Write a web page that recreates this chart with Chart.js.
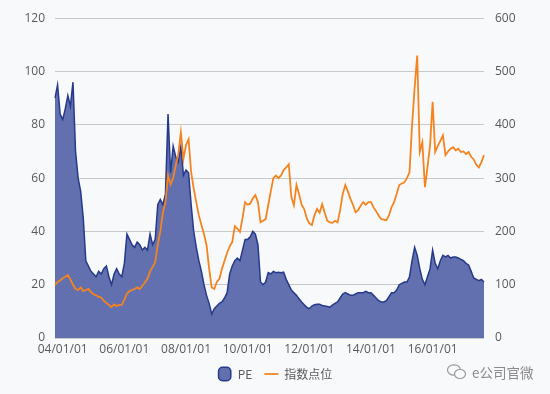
<!DOCTYPE html>
<html>
<head>
<meta charset="utf-8">
<script src="https://cdn.jsdelivr.net/npm/chart.js@4/dist/chart.umd.min.js"></script>
<style>
  html, body { margin: 0; padding: 0; background: #f8f9fb; }
  #wrap { position: relative; width: 550px; height: 394px; }
  #mark { position: absolute; left: 446px; top: 362px; font: 13.5px "Noto Sans CJK SC", sans-serif; color: #8a8a8a; display: flex; align-items: center; }
  #mark svg { margin-right: 4px; }
</style>
</head>
<body>
<div id="wrap">
  <canvas id="pe_chart"></canvas>
  <div id="mark">
    <svg width="22" height="18" viewBox="0 0 22 18"><g fill="none" stroke="#9a9a9a" stroke-width="1.2"><ellipse cx="8" cy="7" rx="6.5" ry="5.2"/><ellipse cx="14" cy="11" rx="5.5" ry="4.5" fill="#f8f9fb"/></g></svg>
    <span>e公司官微</span>
  </div>
</div>
<script>
// Meses (out/2003 - set/2017)
var labels_date = [];
for (var y = 2003; y <= 2017; y++) {
    for (var m = 1; m <= 12; m++) {
        if (y == 2003 && m < 10) continue;
        if (y == 2017 && m > 9) continue;
        labels_date.push(String(y).slice(2) + '/' + (m < 10 ? '0' + m : m) + '/01');
    }
}

// PE (eixo esquerdo)
var pe_list = [
    90, 95, 84, 82, 86, 91, 87, 96, 70, 60, 55, 45, 29, 27, 25, 24, 23, 25, 24, 26,
    27, 23, 20, 24, 26, 24, 23, 28, 39, 37, 35, 34, 36, 35, 33, 34, 33, 39, 35, 37,
    50, 52, 50, 54, 84, 62, 72, 68, 66, 72, 61, 63, 62, 50, 40, 34, 29, 25, 20, 16,
    13, 9, 11, 12, 13, 13.5, 15, 17, 24, 27, 29, 30, 29, 33, 37, 37, 38, 40, 39, 35,
    21, 20, 21, 24.5, 24, 25, 24.5, 24.7, 24.5, 24.7, 22, 20, 18, 17, 16, 14.7, 13.5, 12.5, 11.5, 11,
    12, 12.5, 12.7, 12.7, 12.2, 12, 11.8, 11.6, 12.3, 13, 13.5, 15, 16.5, 17, 16.5, 16, 16, 16.5, 17, 17,
    17, 17.5, 17, 17, 16, 15, 14, 13.5, 13.5, 14, 15.5, 17, 17, 18, 20, 20.5, 21, 21, 23, 29,
    34, 31, 26, 22, 20, 23, 26, 33, 28, 26, 29, 31, 30.4, 31, 30, 30.4, 30.4, 30, 29.5, 29,
    28, 27.4, 25, 22.5, 22, 21.5, 22, 21
];

// Indice (eixo direito)
var index_list = [
    99, 105, 108, 112, 115, 118, 110, 100, 92, 90, 95, 88, 90, 92, 86, 82, 80, 77, 76, 70,
    66, 62, 58, 63, 60, 62, 62, 72, 83, 88, 90, 92, 95, 92, 98, 104, 111, 125, 133, 142,
    175, 200, 235, 255, 305, 288, 300, 324, 345, 386, 336, 362, 373, 311, 280, 255, 230, 212, 195, 174,
    130, 95, 92, 105, 111, 130, 145, 160, 172, 180, 210, 205, 199, 225, 255, 250, 252, 262, 268, 255,
    217, 220, 223, 249, 275, 300, 305, 300, 305, 315, 320, 326, 265, 249, 287, 270, 250, 242, 225, 215,
    212, 230, 242, 235, 251, 235, 220, 217, 216, 220, 217, 240, 270, 287, 275, 261, 250, 236, 240, 248,
    255, 250, 255, 255, 245, 238, 230, 223, 222, 221, 230, 245, 255, 270, 287, 290, 292, 300, 311, 399,
    470, 530, 349, 367, 283, 320, 362, 443, 349, 360, 370, 380, 343, 350, 355, 358, 352, 355, 349, 350,
    345, 349, 340, 335, 325, 320, 330, 343
];

var left_ticks = [0, 20, 40, 60, 80, 100, 120];
var right_ticks = [0, 100, 200, 300, 400, 500, 600];

var font_ticks = { family: 'Open Sans', size: 12 };

var ctx = document.getElementById('pe_chart');
var pe_chart = new Chart(ctx, {
    type: 'line',
    data: {
        labels: labels_date,
        datasets: [{
            label: 'PE',
            data: pe_list,
            yAxisID: 'y',
            order: 1,
            fill: 'origin',
            backgroundColor: '#6270af',
            borderColor: '#27398a',
            borderWidth: 1.5,
            pointRadius: 0,
            pointStyle: 'rectRounded',
            tension: 0
        }, {
            label: '指数点位',
            data: index_list,
            yAxisID: 'y2',
            order: 0,
            fill: false,
            borderColor: '#f5841f',
            backgroundColor: '#f5841f',
            borderWidth: 1.8,
            pointRadius: 0,
            pointStyle: 'line',
            tension: 0
        }]
    },
    options: {
        responsive: true,
        maintainAspectRatio: false,
        animation: false,
        layout: { padding: { top: 7, left: 0, right: 0, bottom: 4 } },
        plugins: {
            tooltip: { enabled: false },
            legend: {
                position: 'bottom',
                labels: {
                    usePointStyle: true,
                    pointStyleWidth: 14,
                    boxHeight: 11,
                    padding: 12,
                    color: '#595959',
                    font: { family: 'Noto Sans CJK SC', size: 12 },
                    sort: function(a, b) { return a.datasetIndex - b.datasetIndex; }
                }
            }
        },
        scales: {
            x: {
                offset: false,
                grid: { display: false, drawTicks: false },
                border: { display: false },
                ticks: {
                    autoSkip: false,
                    maxRotation: 0,
                    padding: 4,
                    color: '#595959',
                    font: font_ticks,
                    callback: function(v, i) {
                        var l = labels_date[i];
                        var yy = parseInt(l.slice(0, 2), 10);
                        return (l.slice(3, 5) == '01' && yy % 2 == 0) ? l : null;
                    }
                },
                afterFit: function(s) { s.height = 18; }
            },
            y: {
                position: 'left',
                min: 0,
                max: 120,
                grid: { color: '#c9c9c9', drawTicks: false },
                border: { display: false },
                ticks: {
                    stepSize: 20,
                    padding: 10,
                    color: '#595959',
                    font: font_ticks,
                    callback: function(v) { return left_ticks.indexOf(v) >= 0 ? v : null; }
                },
                afterFit: function(s) { s.width = 55; }
            },
            y2: {
                position: 'right',
                min: 0,
                max: 600,
                grid: { drawOnChartArea: false, drawTicks: false },
                border: { display: false },
                ticks: {
                    stepSize: 100,
                    padding: 11,
                    color: '#595959',
                    font: font_ticks,
                    callback: function(v) { return right_ticks.indexOf(v) >= 0 ? v : null; }
                },
                afterFit: function(s) { s.width = 66; }
            }
        }
    }
});
</script>
</body>
</html>
